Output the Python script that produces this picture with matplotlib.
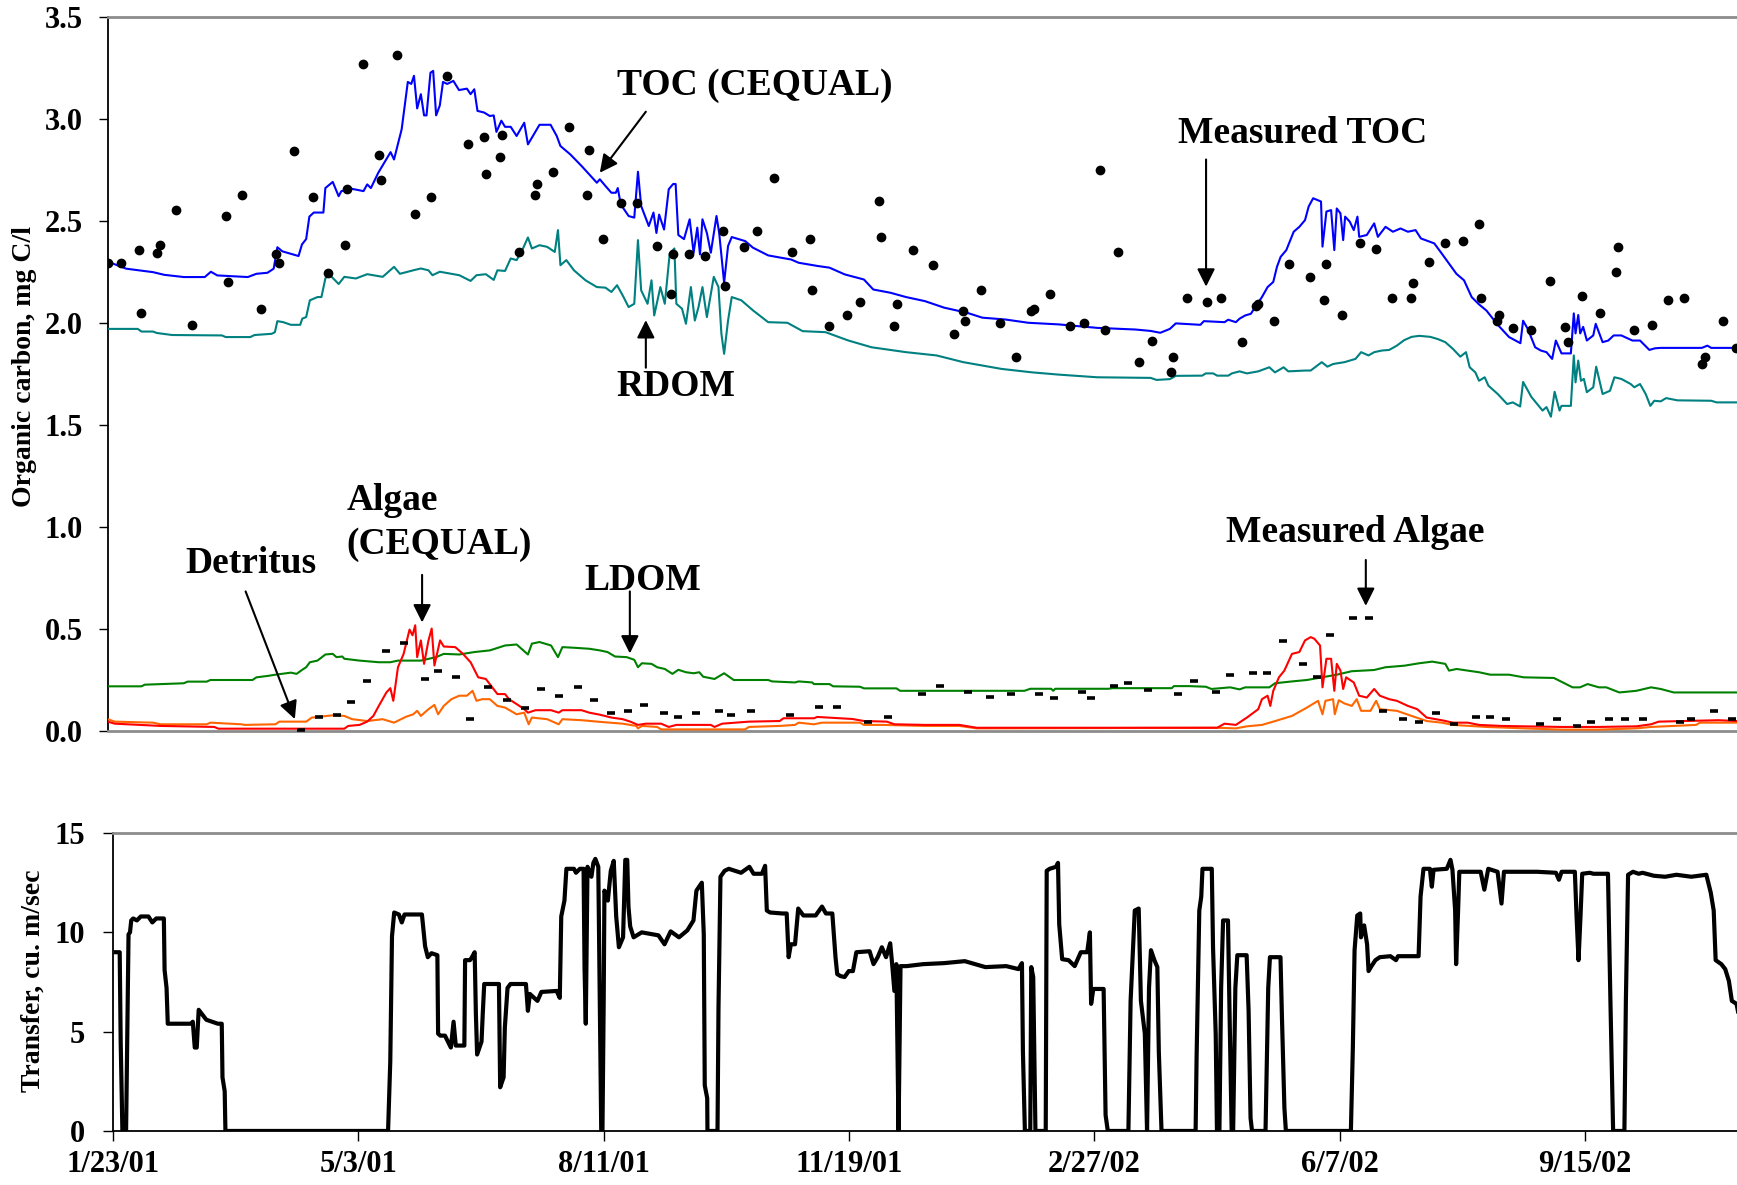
import numpy as np
import matplotlib
matplotlib.use("Agg")
import matplotlib.pyplot as plt

plt.rcParams['font.family'] = ['Liberation Serif', 'DejaVu Serif']
plt.rcParams['font.weight'] = 'bold'

# x values are days since 1/23/01
tick_days = [0, 100, 200, 300, 400, 500, 600]
tick_labels = ["1/23/01", "5/3/01", "8/11/01", "11/19/01", "2/27/02", "6/7/02", "9/15/02"]

# TOC (CEQUAL), mg C/l
toc_model = [
    (0, 2.30), (7.6, 2.265), (18.5, 2.248), (23, 2.235), (31, 2.224), (39.5, 2.224), (42, 2.25), (44.6, 2.232),
    (57, 2.224), (60.5, 2.24), (65, 2.245), (67.5, 2.265), (69, 2.37), (71, 2.35), (77.6, 2.327), (79, 2.384),
    (80.7, 2.41), (82, 2.52), (83.8, 2.54), (87.7, 2.54), (88.5, 2.66), (91.5, 2.69), (93.9, 2.62), (95, 2.645),
    (99, 2.657), (104, 2.645), (105.5, 2.678), (107, 2.66), (110, 2.735), (115, 2.836), (116.4, 2.80), (119.5, 2.948),
    (122, 3.18), (123.4, 3.17), (124.5, 3.21), (125.8, 3.05), (127.3, 3.12), (128.6, 3.016), (129.6, 3.016),
    (131.2, 3.225), (132.3, 3.234), (133.5, 3.016), (135, 3.065), (136.3, 3.18), (138, 3.17), (140.5, 3.185),
    (142.8, 3.14), (146, 3.147), (147.5, 3.12), (149, 3.144), (150.3, 3.038), (153, 3.03), (155.3, 3.013),
    (156.9, 3.016), (158, 2.935), (160, 2.99), (161.5, 2.96), (163.8, 2.96), (166.2, 2.915), (169.3, 2.98),
    (170.8, 2.874), (175.5, 2.97), (180, 2.97), (182.5, 2.915), (184, 2.866), (188, 2.825), (192.6, 2.768),
    (198.8, 2.686), (200, 2.703), (202.3, 2.67), (204.7, 2.637), (206.5, 2.637), (207.3, 2.66), (208.5, 2.58),
    (211.7, 2.523), (214, 2.515), (215.5, 2.74), (216.8, 2.572), (219.9, 2.474), (221.8, 2.54), (223, 2.44),
    (224.1, 2.53), (226.1, 2.457), (228, 2.654), (229.8, 2.68), (230.8, 2.68), (231.9, 2.43), (234.2, 2.41),
    (236.5, 2.507), (238.1, 2.343), (239.6, 2.466), (240.7, 2.335), (241.7, 2.507), (243.5, 2.44), (245.1, 2.343),
    (247.4, 2.523), (248.5, 2.44), (250.5, 2.196), (252.1, 2.376), (253.6, 2.42), (259.1, 2.40), (262.2, 2.368),
    (268.4, 2.33), (277.7, 2.31), (280.8, 2.294), (288.6, 2.278), (293.3, 2.27), (299.5, 2.237), (307.3, 2.212),
    (311.1, 2.163), (318.1, 2.147), (324.4, 2.126), (332.1, 2.106), (339.9, 2.074), (349.2, 2.049), (355.4, 2.025),
    (364.8, 2.016), (374.1, 2.0), (386.5, 1.992), (402.1, 1.975), (417.6, 1.967), (423.8, 1.96), (427.7, 1.951),
    (431.6, 1.97), (434, 1.997), (444, 1.99), (445.4, 2.008), (453.8, 2.003), (455.3, 2.015), (458.4, 2.003),
    (459.9, 2.02), (462.2, 2.036), (464.5, 2.044), (466.7, 2.085), (469, 2.126), (471.3, 2.175), (473.6, 2.2),
    (475.1, 2.274), (476.6, 2.323), (478.9, 2.356), (481.9, 2.446), (484.2, 2.47), (486.5, 2.503), (488, 2.57),
    (489.8, 2.61), (491.8, 2.60), (493, 2.594), (493.6, 2.373), (495.2, 2.545), (497.1, 2.552), (498.4, 2.356),
    (499.4, 2.56), (500.9, 2.536), (502, 2.405), (502.8, 2.52), (504.7, 2.495), (506.3, 2.454), (507.8, 2.52),
    (508.5, 2.421), (511.6, 2.43), (514.6, 2.487), (516.1, 2.421), (519.2, 2.47), (522.2, 2.446), (525.3, 2.462),
    (528.3, 2.446), (531.4, 2.454), (533.6, 2.413), (539, 2.389), (542, 2.34), (545, 2.29), (548, 2.24),
    (551.1, 2.208), (554.2, 2.126), (557.2, 2.09), (560.2, 2.06), (564.8, 1.99), (569.4, 1.93), (574, 1.90),
    (575.1, 2.01), (577, 1.97), (580, 1.88), (582.3, 1.864), (584.6, 1.856), (586.9, 1.823), (588.4, 1.913),
    (590.7, 1.85), (594.5, 1.85), (595.7, 2.046), (596.4, 1.948), (597.5, 2.038), (598.3, 1.948), (599.5, 1.98),
    (601, 1.913), (603.6, 1.938), (604.6, 1.995), (607.4, 1.905), (609.7, 1.913), (611.9, 1.938), (615, 1.938),
    (619.5, 1.913), (622.6, 1.913), (626.4, 1.867), (628.7, 1.875), (631, 1.877), (647.7, 1.877), (650, 1.888),
    (651.5, 1.877), (662, 1.877),
]

rdom = [
    (0, 1.97), (12.3, 1.97), (13.8, 1.957), (18.5, 1.957), (20, 1.95), (26.3, 1.94), (46.5, 1.938), (48, 1.93),
    (58, 1.93), (59.7, 1.94), (66.7, 1.946), (68, 1.954), (69, 2.008), (71.4, 2.003), (74.5, 1.99), (78.3, 1.99),
    (79.1, 2.02), (80.7, 2.028), (82.2, 2.11), (85.3, 2.126), (86.9, 2.126), (88.5, 2.217), (90, 2.238),
    (93.9, 2.19), (96.2, 2.225), (100.9, 2.217), (105.5, 2.238), (111.8, 2.225), (116.4, 2.274), (118.8, 2.24),
    (124.2, 2.257), (127.3, 2.266), (130.4, 2.257), (132, 2.233), (135, 2.25), (142.9, 2.233), (147.5, 2.205),
    (149.9, 2.233), (153.7, 2.238), (156.9, 2.21), (158.4, 2.257), (161.5, 2.254), (163.8, 2.315), (166.2, 2.307),
    (168.5, 2.356), (170.8, 2.418), (172.4, 2.364), (175.5, 2.38), (178.6, 2.372), (181.7, 2.347), (183, 2.454),
    (184, 2.282), (186.4, 2.307), (189.5, 2.257), (194.2, 2.208), (198.8, 2.175), (202.3, 2.172), (204.7, 2.151),
    (207, 2.184), (209.3, 2.134), (211.7, 2.077), (214, 2.093), (215.5, 2.405), (216.8, 2.159), (219.4, 2.093),
    (221, 2.208), (222.1, 2.036), (224.6, 2.175), (226.4, 2.093), (228.4, 2.339), (230.3, 2.364), (231.1, 2.093),
    (233.4, 2.069), (235, 1.995), (237, 2.175), (238.6, 2.011), (240.1, 2.077), (241.7, 2.175), (243.5, 2.028),
    (246.3, 2.225), (248.2, 2.175), (249.4, 1.946), (250.5, 1.848), (252.1, 2.011), (253.6, 2.126), (257.5, 2.11),
    (262.2, 2.061), (268.4, 2.003), (276.2, 2.0), (282.4, 1.959), (291.7, 1.954), (301, 1.913), (310.4, 1.88),
    (324.4, 1.856), (336.8, 1.84), (347.7, 1.807), (363.2, 1.774), (375.7, 1.757), (386.5, 1.746), (402.1, 1.733),
    (423.8, 1.73), (426.2, 1.72), (431.6, 1.724), (434, 1.74), (444.7, 1.741), (446.2, 1.752), (449.2, 1.752),
    (450.8, 1.741), (455.3, 1.741), (456.8, 1.752), (459.9, 1.762), (462.9, 1.752), (467.5, 1.762), (472, 1.782),
    (474.3, 1.757), (477.8, 1.782), (479.7, 1.762), (486.5, 1.766), (488.8, 1.766), (493.3, 1.807), (495.6, 1.785),
    (497.9, 1.798), (502.5, 1.807), (507, 1.823), (509.3, 1.856), (512.3, 1.84), (514.6, 1.856), (517.7, 1.864),
    (520.7, 1.867), (523.8, 1.888), (526.8, 1.915), (529.8, 1.931), (532.9, 1.936), (537.4, 1.931), (540.5, 1.92),
    (543.5, 1.905), (546.6, 1.872), (549.6, 1.834), (551.9, 1.856), (553.4, 1.782), (555.7, 1.757), (557.2, 1.716),
    (559.5, 1.733), (561, 1.692), (564.8, 1.651), (568.6, 1.602), (570.9, 1.61), (573.9, 1.59), (575.1, 1.71),
    (578.5, 1.636), (583, 1.57), (584.6, 1.587), (586.4, 1.54), (587.9, 1.662), (589.9, 1.57), (590.7, 1.593),
    (594.5, 1.593), (595.7, 1.84), (596.4, 1.708), (597.5, 1.815), (598.6, 1.716), (599.8, 1.725), (601, 1.66),
    (603.6, 1.684), (604.8, 1.785), (607.4, 1.651), (610.4, 1.667), (612.2, 1.733), (615, 1.725), (618.8, 1.7),
    (620.3, 1.684), (622.6, 1.7), (624.9, 1.651), (626.8, 1.593), (628.4, 1.618), (631, 1.615), (633.2, 1.631),
    (637.8, 1.62), (651.5, 1.618), (653.7, 1.61), (662, 1.61),
]

toc_measured = [
    (0.2, 2.295), (5.4, 2.295), (12.9, 2.357), (13.8, 2.048), (20.2, 2.344), (21.3, 2.379), (27.7, 2.554),
    (34.4, 1.987), (48.2, 2.523), (49.1, 2.202), (54.6, 2.626), (62.2, 2.067), (68.6, 2.338), (69.6, 2.295),
    (75.9, 2.843), (83.3, 2.615), (89.7, 2.244), (96.4, 2.379), (97.2, 2.657), (103.7, 3.269), (110.2, 2.823),
    (111.1, 2.698), (117.8, 3.31), (125.1, 2.534), (131.5, 2.615), (137.9, 3.207), (146.4, 2.875), (153, 2.908),
    (153.9, 2.731), (159.5, 2.813), (160.3, 2.918), (167, 2.346), (173.5, 2.626), (174.3, 2.679), (180.8, 2.741),
    (187.3, 2.957), (194.6, 2.626), (195.7, 2.844), (201.2, 2.41), (208.5, 2.587), (215.1, 2.587), (223.3, 2.377),
    (228.9, 2.143), (229.8, 2.336), (236.2, 2.336), (242.9, 2.326), (250.1, 2.451), (251, 2.182), (258.6, 2.369),
    (264, 2.451), (270.7, 2.708), (278, 2.348), (285.3, 2.41), (286.4, 2.161), (293, 1.985), (300.3, 2.038),
    (305.9, 2.1), (313.3, 2.595), (314.3, 2.418), (319.7, 1.985), (320.6, 2.09), (327.2, 2.357), (335.4, 2.285),
    (343.9, 1.944), (347.7, 2.057), (348.5, 2.007), (355, 2.161), (362.4, 1.997), (369, 1.83), (375.3, 2.059),
    (376.3, 2.069), (382.8, 2.141), (391.2, 1.985), (396.6, 1.997), (403.2, 2.749), (405.2, 1.964), (410.6, 2.346),
    (419, 1.81), (424.5, 1.913), (431.9, 1.757), (432.7, 1.83), (438.5, 2.121), (446.8, 2.1), (452.3, 2.121),
    (460.7, 1.905), (466.4, 2.082), (467.5, 2.092), (473.7, 2.008), (480.1, 2.287), (488.5, 2.225), (494.1, 2.113),
    (494.9, 2.287), (501.5, 2.039), (509, 2.389), (515.4, 2.359), (521.9, 2.121), (529.4, 2.121), (530.3, 2.195),
    (536.7, 2.298), (543.2, 2.389), (550.5, 2.4), (557, 2.482), (558.1, 2.121), (564.6, 2.008), (565.4, 2.039),
    (571, 1.975), (578.3, 1.966), (585.9, 2.203), (592.3, 1.977), (593.2, 1.905), (598.9, 2.131), (606.3, 2.049),
    (612.7, 2.247), (613.5, 2.369), (620.1, 1.966), (627.6, 1.987), (634, 2.11), (640.5, 2.121), (647.8, 1.8),
    (649, 1.831), (656.3, 2.008), (661.5, 1.874),
]

ldom = [
    (0, 0.219), (13.8, 0.219), (15.1, 0.227), (31, 0.234), (32.5, 0.242), (40.3, 0.242), (41.8, 0.25),
    (58.9, 0.25), (60.5, 0.263), (65.1, 0.27), (68.2, 0.276), (74.5, 0.286), (76.8, 0.28), (79.1, 0.3),
    (80.7, 0.3125), (82.2, 0.337), (85.3, 0.345), (88.5, 0.375), (91.5, 0.378), (93, 0.362), (95.4, 0.365),
    (96.2, 0.354), (102.4, 0.345), (110.2, 0.337), (114.9, 0.337), (118, 0.345), (127.3, 0.345), (133.5, 0.362),
    (136.6, 0.378), (142.9, 0.375), (149.1, 0.387), (155.3, 0.395), (161.5, 0.419), (166.2, 0.424), (170.8, 0.375),
    (172.4, 0.428), (175.5, 0.436), (180.2, 0.419), (183, 0.362), (184.8, 0.411), (189.5, 0.408), (195.7, 0.403),
    (200, 0.395), (203.1, 0.387), (206.2, 0.365), (210.9, 0.362), (214, 0.349), (215.5, 0.3125), (217.1, 0.332),
    (221, 0.329), (223.3, 0.3125), (226.4, 0.304), (229.5, 0.28), (231.9, 0.3), (235, 0.288), (238.1, 0.283),
    (240.4, 0.288), (242, 0.266), (246.6, 0.255), (250.5, 0.283), (254.4, 0.25), (268.4, 0.25), (270, 0.243),
    (279.3, 0.238), (280.8, 0.243), (286.3, 0.238), (287, 0.23), (293.3, 0.23), (294.8, 0.219), (305.7, 0.217),
    (307.3, 0.209), (320.5, 0.209), (322, 0.197), (372.5, 0.197), (374.9, 0.207), (383.4, 0.207), (384.2, 0.197),
    (385, 0.207), (406.7, 0.207), (408.3, 0.21), (432.4, 0.21), (433.2, 0.22), (439.4, 0.22), (446.2, 0.217),
    (448.5, 0.206), (456.1, 0.214), (459.9, 0.204), (462.2, 0.214), (472, 0.214), (474.3, 0.234), (481.2, 0.243),
    (487.3, 0.25), (493.3, 0.263), (499.4, 0.276), (505.5, 0.293), (514.6, 0.299), (519.2, 0.3125), (526.8, 0.32),
    (532.9, 0.332), (538.2, 0.34), (543.5, 0.329), (545, 0.296), (548.1, 0.304), (552.6, 0.296), (557.2, 0.288),
    (561.8, 0.276), (569.4, 0.276), (575.4, 0.263), (587.6, 0.26), (595.2, 0.214), (598.2, 0.214), (601.3, 0.23),
    (605.9, 0.214), (608.9, 0.214), (614.2, 0.189), (621.1, 0.197), (627.1, 0.214), (631, 0.206), (636.3, 0.189),
    (662, 0.189),
]

algae_model = [
    (0, 0.046), (3, 0.036), (21.6, 0.025), (43.4, 0.02), (45, 0.0115), (96.2, 0.0115), (97.8, 0.025),
    (102.4, 0.03), (105.5, 0.046), (108, 0.074), (110.2, 0.123), (113.3, 0.189), (114.9, 0.21), (116.1, 0.148),
    (118, 0.3125), (120.3, 0.378), (122.7, 0.497), (123.9, 0.469), (125, 0.518), (125.8, 0.362), (127.3, 0.444),
    (128.6, 0.329), (130.4, 0.444), (131.7, 0.502), (132.8, 0.321), (135.1, 0.444), (136.6, 0.414), (141.3, 0.411),
    (144.4, 0.378), (147.5, 0.337), (150.6, 0.263), (153.7, 0.255), (158.4, 0.181), (161.5, 0.181), (163.1, 0.156),
    (166.2, 0.132), (169.3, 0.107), (170.8, 0.09), (173.9, 0.102), (180.2, 0.102), (183.3, 0.09), (184.8, 0.102),
    (192.6, 0.102), (195.7, 0.09), (200, 0.08), (204.7, 0.066), (209.3, 0.058), (212.4, 0.046), (215.5, 0.03),
    (218.7, 0.036), (224.9, 0.036), (228, 0.02), (231.1, 0.03), (245.1, 0.03), (246.6, 0.02), (249.7, 0.036),
    (260.6, 0.046), (273.1, 0.049), (274.6, 0.0625), (287, 0.0625), (288.3, 0.069), (302.6, 0.059), (307.3, 0.049),
    (316.6, 0.046), (319.7, 0.033), (332.1, 0.03), (346.1, 0.03), (353.1, 0.016), (450.8, 0.016), (453.8, 0.036),
    (458.4, 0.03), (462.9, 0.066), (467.5, 0.107), (469, 0.156), (471.3, 0.173), (472.4, 0.123), (473.6, 0.197),
    (475.9, 0.263), (478.1, 0.296), (481.2, 0.378), (484.2, 0.387), (486.5, 0.444), (488.8, 0.46), (490.3, 0.452),
    (492.6, 0.419), (493.6, 0.214), (495.2, 0.354), (497.1, 0.354), (498.4, 0.197), (499.4, 0.329), (500.9, 0.296),
    (502, 0.206), (503.2, 0.263), (506.3, 0.238), (508.5, 0.173), (511.6, 0.164), (514.6, 0.206), (516.9, 0.173),
    (520.7, 0.156), (523.8, 0.148), (528.3, 0.123), (532.1, 0.107), (535.9, 0.066), (542, 0.053), (546.6, 0.041),
    (552.6, 0.041), (557.2, 0.03), (566.3, 0.025), (575.4, 0.023), (590.7, 0.02), (605.9, 0.02), (621.1, 0.023),
    (627.1, 0.033), (630.2, 0.046), (654.5, 0.053), (662, 0.049),
]

detritus = [
    (0, 0.058), (3, 0.046), (18.5, 0.041), (21.6, 0.033), (40.3, 0.033), (41.8, 0.041), (54.3, 0.033),
    (55.8, 0.03), (68.2, 0.033), (69.8, 0.046), (80.7, 0.046), (83, 0.066), (91.5, 0.077), (96.2, 0.074),
    (99.4, 0.058), (105.5, 0.049), (111.8, 0.058), (116.4, 0.041), (121.1, 0.069), (124.2, 0.082), (125.8, 0.099),
    (127.3, 0.074), (130.4, 0.107), (132.8, 0.128), (134.3, 0.082), (136.6, 0.123), (139.7, 0.156), (142.9, 0.173),
    (146, 0.173), (148.3, 0.197), (149.9, 0.148), (152.2, 0.156), (155.3, 0.156), (158.4, 0.123), (161.5, 0.115),
    (166.2, 0.082), (169.3, 0.09), (171.1, 0.033), (172.4, 0.066), (178.6, 0.058), (183.3, 0.033), (184.8, 0.058),
    (192.6, 0.053), (200, 0.045), (209.3, 0.036), (214.8, 0.025), (215.5, 0.013), (217.1, 0.025), (223.3, 0.02),
    (224.9, 0.008), (259, 0.008), (260.6, 0.02), (273.1, 0.025), (279.3, 0.03), (280.8, 0.041), (287, 0.033),
    (290.2, 0.041), (305.7, 0.041), (307.3, 0.03), (315, 0.03), (332.1, 0.025), (346.1, 0.025), (353.1, 0.013),
    (450.8, 0.016), (458.4, 0.013), (462.9, 0.023), (469, 0.03), (473.6, 0.046), (481.2, 0.074), (487.3, 0.115),
    (491.8, 0.148), (493.6, 0.082), (494.8, 0.148), (497.9, 0.156), (498.6, 0.082), (500.2, 0.151), (502.5, 0.135),
    (505.5, 0.123), (507.5, 0.156), (509.3, 0.099), (513.1, 0.099), (515.4, 0.148), (516.9, 0.107), (523.8, 0.099),
    (529.8, 0.074), (535.9, 0.049), (542, 0.041), (546.6, 0.03), (560.2, 0.02), (575.4, 0.013), (590.7, 0.007),
    (605.9, 0.007), (621.1, 0.013), (627.1, 0.02), (645.4, 0.03), (646.9, 0.041), (662, 0.041),
]

algae_measured = [
    (78.8, 0.003), (86.1, 0.069), (93.4, 0.079), (99, 0.14), (105.6, 0.243), (113, 0.391), (120.3, 0.431),
    (128.9, 0.255), (134.3, 0.296), (141.6, 0.266), (147.2, 0.058), (154.7, 0.214), (162.4, 0.151), (169.6, 0.112),
    (176, 0.204), (183.6, 0.173), (191, 0.214), (197.6, 0.151), (204.7, 0.087), (211.3, 0.099), (217.9, 0.128),
    (226.1, 0.087), (231.7, 0.067), (239.2, 0.087), (248.5, 0.099), (253.2, 0.077), (261.6, 0.099), (277.3, 0.077),
    (289.1, 0.118), (296.5, 0.118), (308.8, 0.046), (317.1, 0.067), (331, 0.181), (338.4, 0.222), (349.5, 0.192),
    (358.7, 0.169), (367.1, 0.181), (378.3, 0.181), (384.7, 0.16), (395.9, 0.192), (399.6, 0.16), (408.8, 0.222),
    (414.4, 0.234), (422.8, 0.202), (434.7, 0.181), (441.3, 0.243), (450.5, 0.192), (456.1, 0.275), (465.4, 0.286),
    (471, 0.286), (477.4, 0.441), (485.7, 0.326), (491.2, 0.263), (496.8, 0.472), (506, 0.554), (512.6, 0.554),
    (518.1, 0.099), (526.5, 0.058), (532.9, 0.046), (539.6, 0.087), (546.9, 0.036), (556.1, 0.067), (561.5, 0.067),
    (568.1, 0.058), (582, 0.036), (588.7, 0.058), (596.9, 0.026), (602.7, 0.046), (610, 0.058), (616.5, 0.058),
    (623.8, 0.058), (638.7, 0.046), (643.3, 0.058), (652.7, 0.099), (659.8, 0.058),
]

# transfer, cu. m/sec
transfer = [
    (1.1, 9.0), (2.7, 9.0), (3.1, 4.5), (3.8, 0), (5.3, 0), (5.8, 4.9), (6.3, 9.9), (6.9, 10.0), (7.4, 10.6),
    (8.2, 10.7), (9.7, 10.6), (11.3, 10.8), (14.4, 10.8), (16, 10.5), (17.6, 10.7), (20.7, 10.7), (21, 8.1),
    (21.8, 7.2), (22.3, 5.4), (31.7, 5.4), (32.5, 5.5), (33.3, 4.2), (34.1, 4.2), (34.9, 6.1), (38, 5.6),
    (42.7, 5.4), (44.3, 5.4), (44.6, 2.7), (45.5, 2.0), (45.8, 0), (112.1, 0), (113, 3.5), (113.7, 9.8),
    (114.6, 11.0), (116.5, 10.9), (117.7, 10.5), (118.8, 10.9), (125.9, 10.9), (127.2, 9.3), (128.3, 8.75),
    (129.8, 8.95), (132.2, 8.85), (132.5, 4.9), (133.4, 4.8), (135.3, 4.8), (137.7, 4.2), (138.8, 5.5),
    (139.7, 4.3), (143.2, 4.3), (143.5, 8.6), (145.5, 8.6), (146.3, 8.75), (147.4, 9.0), (147.9, 5.9),
    (148.4, 3.85), (150.2, 4.5), (150.7, 5.9), (151.3, 7.4), (157.3, 7.4), (157.8, 2.2), (159.2, 2.7),
    (159.7, 5.2), (160.8, 7.2), (162, 7.4), (168.3, 7.4), (169.1, 6.05), (169.9, 6.9), (173, 6.55), (174.6, 7.0),
    (180.8, 7.05), (182.1, 6.7), (182.7, 10.8), (184, 11.6), (184.8, 13.2), (187.9, 13.2), (188.7, 13.0),
    (190.3, 13.2), (191.8, 13.2), (192.2, 8.2), (192.7, 5.4), (193.4, 13.3), (195, 12.8), (195.8, 13.5),
    (196.6, 13.7), (197.8, 13.3), (198.4, 6.55), (199, 0), (199.5, 0), (200, 6.55), (200.3, 12.1), (201.7, 11.6),
    (202.9, 13.1), (204.1, 13.6), (205.1, 10.8), (206.2, 9.25), (207.9, 9.75), (208.8, 13.65), (209.6, 13.65),
    (210.1, 11.3), (210.8, 10.3), (212.2, 9.75), (215.5, 10.0), (222.3, 9.85), (224.8, 9.4), (227.3, 10.05),
    (230.7, 9.75), (234.1, 10.1), (236.6, 10.6), (237.8, 12.1), (240, 12.5), (240.8, 9.9), (241.2, 2.3),
    (242.2, 1.65), (242.3, 0), (246.4, 0), (246.8, 6.2), (247.6, 12.8), (249.3, 13.1), (251, 13.2), (256, 13.0),
    (259.4, 13.3), (261.1, 12.95), (264.5, 12.95), (265.8, 13.35), (266.5, 11.1), (267.8, 11.0), (272.9, 10.95),
    (274.6, 10.95), (275.4, 8.75), (276.3, 9.4), (278, 9.4), (279.3, 11.2), (281.4, 10.85), (286.4, 10.85),
    (289, 11.3), (290.6, 10.95), (293.2, 10.95), (294.5, 8.75), (295.2, 7.9), (296.5, 7.8), (298.2, 7.75),
    (299.9, 8.05), (301.6, 8.05), (303, 9.0), (308.4, 9.05), (310, 8.4), (311.7, 8.75), (313.4, 9.25),
    (315.1, 8.75), (316.8, 9.45), (317.6, 8.4), (318.5, 7.05), (319.3, 8.4), (320.2, 0), (321, 8.3), (323.5, 8.3),
    (330.3, 8.4), (338.7, 8.45), (347.2, 8.55), (355.6, 8.25), (364.1, 8.3), (369.1, 8.15), (370.5, 8.45),
    (370.9, 4.0), (371.7, 0), (373.9, 0), (374.3, 8.25), (375.1, 7.75), (376, 0), (380.2, 0), (380.6, 13.1),
    (381.8, 13.2), (384.4, 13.3), (385.2, 13.5), (385.7, 10.4), (386.9, 8.65), (389.5, 8.6), (392, 8.3),
    (394.5, 9.0), (397.1, 9.0), (398.2, 10.0), (398.7, 6.4), (399.6, 7.15), (403.8, 7.15), (404.6, 0.8),
    (405.5, 0), (413.9, 0), (414.8, 6.55), (416.5, 11.1), (418.1, 11.2), (419, 6.55), (420.6, 4.9), (421.5, 0),
    (422.3, 7.2), (423.1, 9.1), (424.5, 8.6), (425.7, 8.25), (426.3, 4.0), (427.4, 0), (441.3, 0), (441.7, 3.7),
    (442.8, 11.1), (443.6, 11.8), (444.1, 13.2), (447.9, 13.2), (448.4, 9.25), (449.5, 4.85), (450, 0), (451, 0),
    (451.7, 7.2), (452.5, 10.6), (454.5, 10.6), (455.1, 6.2), (456, 0), (456.6, 0), (457.5, 7.2), (458.3, 8.85),
    (462.1, 8.85), (462.9, 6.05), (463.7, 0.65), (464.3, 0), (469.8, 0), (470.9, 7.2), (471.6, 8.75),
    (475.9, 8.75), (476.5, 5.7), (477.5, 1.15), (478.1, 0), (504.6, 0), (505.4, 4.2), (506.1, 9.1),
    (507.2, 10.85), (508.4, 10.95), (508.7, 9.75), (510, 10.35), (511.2, 9.4), (511.8, 8.05), (513, 8.3),
    (514.6, 8.6), (516.4, 8.75), (520.7, 8.8), (523, 8.6), (523.8, 8.8), (532.2, 8.8), (533, 11.8), (534.2, 13.2),
    (536.8, 13.2), (537.6, 12.3), (538.3, 13.15), (543.7, 13.2), (545.2, 13.65), (546, 13.15), (547.1, 11.1),
    (547.5, 8.4), (548.3, 11.1), (548.8, 13.05), (557.5, 13.05), (559, 12.15), (560.6, 13.2), (564.4, 13.05),
    (566, 11.45), (567, 13.05), (580.5, 13.05), (588.2, 13.0), (589.4, 12.65), (590.5, 13.05), (595.9, 13.05),
    (596.6, 10.8), (597.4, 8.6), (598.2, 10.8), (598.9, 12.95), (602, 13.0), (603.5, 12.95), (609.4, 12.95),
    (610.4, 6.55), (611.5, 0), (616.1, 0), (616.7, 6.55), (617.6, 12.9), (619.6, 13.05), (621.9, 12.95),
    (623.5, 13.0), (628.1, 12.85), (632.7, 12.8), (637.3, 12.9), (643.4, 12.8), (649.5, 12.9), (651.3, 12.0),
    (652.5, 11.1), (653.3, 8.6), (655.6, 8.4), (657.2, 8.15), (658.7, 7.55), (659.9, 6.55), (661.8, 6.4),
    (662.6, 5.9),
]


def xy(pairs):
    a = np.array(pairs, dtype=float)
    return a[:, 0], a[:, 1]


fig = plt.figure(figsize=(17.37, 11.85), dpi=100)
ax1 = fig.add_axes([0.0619, 0.3831, 0.9381, 0.6029])
ax2 = fig.add_axes([0.0651, 0.0456, 0.9349, 0.2514])

# upper panel: organic carbon
ax1.plot(*xy(toc_model), color='#0000FF', lw=1.5, zorder=3)
ax1.plot(*xy(rdom), color='#008080', lw=1.5, zorder=3)
ax1.plot(*xy(ldom), color='#008000', lw=1.5, zorder=3)
ax1.plot(*xy(detritus), color='#FF6600', lw=1.5, zorder=3)
ax1.plot(*xy(algae_model), color='#FF0000', lw=1.5, zorder=4)
ax1.plot(*xy(toc_measured), 'o', color='black', ms=6, zorder=5)
ax1.plot(*xy(algae_measured), '_', color='black', ms=5.5, mew=2.6, zorder=5)

ax1.set_xlim(0, 662)
ax1.set_ylim(0, 3.5)
ax1.set_yticks(np.arange(0, 3.51, 0.5))
ax1.set_yticklabels([f"{v:.1f}" for v in np.arange(0, 3.51, 0.5)])
ax1.tick_params(axis='x', bottom=False, labelbottom=False)
ax1.tick_params(axis='y', direction='out', length=6.5, width=1, labelsize=22, pad=11)
ax1.spines['right'].set_visible(False)
ax1.spines['left'].set_linewidth(1.3)
for s in ('top', 'bottom'):
    ax1.spines[s].set_color('#8c8c8c')
    ax1.spines[s].set_linewidth(2)

arrow = dict(arrowstyle='-|>', color='black', lw=1.5, mutation_scale=27, shrinkA=0, shrinkB=0)
label_kw = dict(fontsize=27, fontweight='bold', va='baseline')

ax1.text(262.8, 3.116, "TOC (CEQUAL)", ha='center', **label_kw)
ax1.annotate('', xy=(200, 2.735), xytext=(218.7, 3.034), arrowprops=arrow)
ax1.text(231.1, 1.639, "RDOM", ha='center', **label_kw)
ax1.annotate('', xy=(218.7, 2.013), xytext=(218.7, 1.78), arrowprops=arrow)
ax1.text(485.4, 2.882, "Measured TOC", ha='center', **label_kw)
ax1.annotate('', xy=(446.3, 2.177), xytext=(446.3, 2.80), arrowprops=arrow)
ax1.text(58.1, 0.776, "Detritus", ha='center', **label_kw)
ax1.annotate('', xy=(76.1, 0.0586), xytext=(56.1, 0.684), arrowprops=arrow)
ax1.text(97.0, 1.083, "Algae", ha='left', **label_kw)
ax1.text(97.0, 0.868, "(CEQUAL)", ha='left', **label_kw)
ax1.annotate('', xy=(127.8, 0.532), xytext=(127.8, 0.765), arrowprops=arrow)
ax1.text(217.6, 0.692, "LDOM", ha='center', **label_kw)
ax1.annotate('', xy=(212.2, 0.38), xytext=(212.2, 0.684), arrowprops=arrow)
ax1.text(506.9, 0.928, "Measured Algae", ha='center', **label_kw)
ax1.annotate('', xy=(511.2, 0.613), xytext=(511.2, 0.838), arrowprops=arrow)

# lower panel: transfer
ax2.plot(*xy(transfer), color='black', lw=3.0, zorder=3)
ax2.set_xlim(0, 662)
ax2.set_ylim(0, 15)
ax2.set_yticks([0, 5, 10, 15])
ax2.set_xticks(tick_days)
ax2.set_xticklabels(tick_labels)
ax2.tick_params(axis='y', direction='out', length=7, width=1, labelsize=22, pad=13)
ax2.tick_params(axis='x', direction='out', length=7, width=1, labelsize=22, pad=6.5)
ax2.spines['right'].set_visible(False)
ax2.spines['left'].set_linewidth(1.3)
ax2.spines['bottom'].set_linewidth(1.3)
ax2.spines['top'].set_color('#8c8c8c')
ax2.spines['top'].set_linewidth(2)

fig.text(24.5 / 1737, 1 - 367 / 1185, "Organic carbon, mg C/l", rotation=90,
         ha='center', va='center', fontsize=20, fontweight='bold')
fig.text(33.5 / 1737, 1 - 981 / 1185, "Transfer, cu. m/sec", rotation=90,
         ha='center', va='center', fontsize=20, fontweight='bold')

fig.savefig("out.png", dpi=100)
